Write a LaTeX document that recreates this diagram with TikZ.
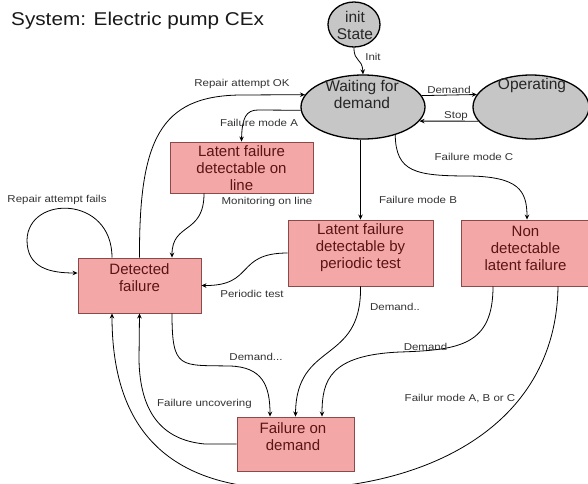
\documentclass[tikz,border=0pt]{standalone}
\usepackage{fontspec}
\setmainfont{Liberation Sans}
\newfontfamily\lblfont[FakeStretch=1.15]{Liberation Sans}
\newfontfamily\ttlfont[FakeStretch=1.12]{Liberation Sans}
\usetikzlibrary{arrows.meta,shapes.geometric,calc}
\definecolor{boxfill}{HTML}{F4A7A7}
\definecolor{boxdraw}{HTML}{8A4A4A}
\definecolor{boxtext}{HTML}{5A1414}
\definecolor{ellfill}{HTML}{C6C6C6}
\definecolor{lbltext}{HTML}{333333}
\begin{document}
\begin{tikzpicture}[x=1pt,y=-1pt,
  statebox/.style={draw=boxdraw, fill=boxfill, line width=0.9pt, inner sep=0pt},
  boxtxt/.style={text=boxtext, font=\fontsize{15}{17}\selectfont, align=center, inner sep=0pt},
  ell/.style={ellipse, draw=black, fill=ellfill, line width=1.3pt, inner sep=0pt},
  elltxt/.style={text=black!85, font=\fontsize{15.5}{17}\selectfont, align=center, inner sep=0pt},
  lbl/.style={font=\lblfont\fontsize{10}{12}\selectfont, text=lbltext, inner sep=0pt},
  conn/.style={draw=black, line width=0.8pt, -{Stealth[length=5pt,width=4.5pt]}}]

\fill[white] (0,0) rectangle (588,483);
\useasboundingbox (0,0) rectangle (588,483);

\node[anchor=west, font=\ttlfont\fontsize{18.5}{20}\selectfont, text=black!90, inner sep=0pt] (title) at (11,21) {System: Electric pump CEx};

% ellipses
\node[ell, minimum width=52pt, minimum height=45pt] (init) at (354,24.5) {};
\node[elltxt] (initt) at (355,25) {init\\State};
\node[ell, minimum width=124pt, minimum height=64pt] (w) at (363,107) {};
\node[elltxt] (wt) at (362,94) {Waiting for\\demand};
\node[ell, minimum width=116pt, minimum height=64pt] (op) at (531,107) {};
\node[elltxt] (opt) at (532,85) {Operating};

% boxes
\node[statebox, minimum width=143pt, minimum height=51pt] (lo) at (241.5,167.5) {};
\node[boxtxt] (lot) at (241.5,168) {Latent failure\\detectable on\\line};
\node[statebox, minimum width=123pt, minimum height=55pt] (det) at (139.5,285.5) {};
\node[boxtxt] (dett) at (139.5,278) {Detected\\failure};
\node[statebox, minimum width=145pt, minimum height=66pt] (lp) at (360.5,253) {};
\node[boxtxt] (lpt) at (360.5,248) {Latent failure\\detectable by\\periodic test};
\node[statebox, minimum width=129pt, minimum height=66pt] (nd) at (525.5,253) {};
\node[boxtxt] (ndt) at (525.5,248) {Non\\detectable\\latent failure};
\node[statebox, minimum width=117pt, minimum height=54pt] (fod) at (295.5,444) {};
\node[boxtxt] (fodt) at (293,436.5) {Failure on\\demand};

% connectors
\draw[conn] (init.south) .. controls (354,63) and (362,57) .. (w.north);
\draw[conn] (w.11.8) -- (op.167.4);
\draw[conn] (op.195) -- (w.-14.1);
\draw[conn] (det.north) .. controls (139,140) and (160,96) .. (240,95) -- (w.168.2);
\draw[conn] (w.183) -- (258,110) .. controls (246,110) and (242,118) .. (lo.north);
\draw[conn] ([xshift=-37.5pt]lo.south) .. controls (204,235) and (172,222) .. ([xshift=32.5pt]det.north);
\draw[conn] ([xshift=-27.5pt]det.north) .. controls (112,195) and (28,195) .. (27,240) .. controls (27,268) and (50,273) .. ([yshift=12.5pt]det.west);
\draw[conn] (w.south -| lp.north) -- (lp.north);
\draw[conn] (w.-41.8) .. controls (396,172) and (415,176) .. (470,176) .. controls (518,177) and (527,190) .. ([xshift=1.5pt]nd.north);
\draw[conn] (lp.west) .. controls (235,253) and (255,286) .. (det.east);
\draw[conn] (lp.south) .. controls (362,365) and (296,340) .. (fod.north);
\draw[conn] ([xshift=-32.5pt]nd.south) .. controls (493,345) and (460,350) .. (400,352) .. controls (330,355) and (322,380) .. ([xshift=26.5pt]fod.north);
\draw[conn] ([xshift=32.5pt]nd.south) .. controls (556,430) and (420,489) .. (290,489) .. controls (150,489) and (112,410) .. ([xshift=-27.5pt]det.south);
\draw[conn] (fod.west) -- (205,444) .. controls (160,440) and (140,410) .. (139,360) -- (det.south);
\draw[conn] ([xshift=32.5pt]det.south) .. controls (172,370) and (180,365) .. (230,366) .. controls (262,367) and (270,385) .. ([xshift=-25.5pt]fod.north);

% labels
\node[lbl] (l1) at (373,57) {Init};
\node[lbl] (l2) at (449,90) {Demand};
\node[lbl] (l3) at (456,116) {Stop};
\node[lbl] (l4) at (242,84) {Repair attempt OK};
\node[lbl] (l5) at (259,123) {Failure mode A};
\node[lbl] (l6) at (267,202) {Monitoring on line};
\node[lbl] (l7) at (57,200) {Repair attempt fails};
\node[lbl] (l8) at (418,200) {Failure mode B};
\node[lbl] (l9) at (474,157) {Failure mode C};
\node[lbl] (l10) at (252,294) {Periodic test};
\node[lbl] (l11) at (395,307) {Demand..};
\node[lbl] (l12) at (425.5,347) {Demand};
\node[lbl] (l13) at (460,399) {Failur mode A, B or C};
\node[lbl] (l14) at (256,357) {Demand...};
\node[lbl] (l15) at (204.5,404) {Failure uncovering};
\end{tikzpicture}
\end{document}
